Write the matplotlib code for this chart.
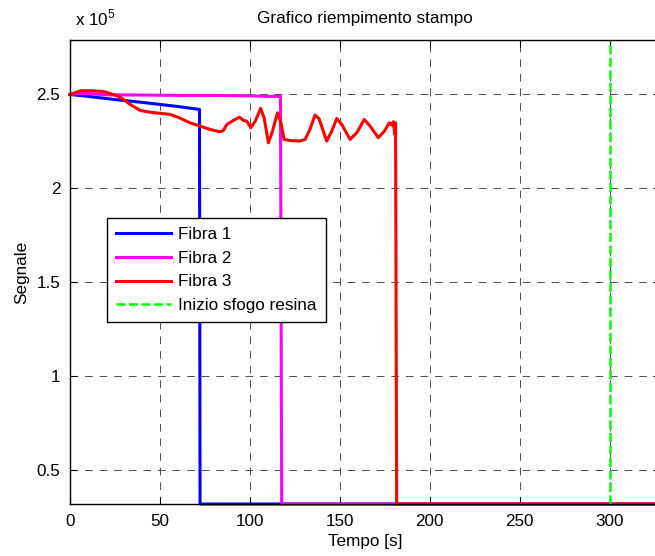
import numpy as np
import matplotlib
matplotlib.use("Agg")
import matplotlib.pyplot as plt
from matplotlib.ticker import FuncFormatter

plt.rcParams["font.family"] = ["Liberation Sans", "DejaVu Sans"]
plt.rcParams["mathtext.fontset"] = "custom"
plt.rcParams["mathtext.rm"] = "Liberation Sans"
plt.rcParams["lines.scale_dashes"] = False

# data (signal values)
t1 = [0, 10, 25, 40, 50, 60, 70, 72, 72.3, 330]
s1 = [250000, 249000, 247300, 245800, 244700, 243600, 242300, 242000, 32000, 32000]

t2 = [0, 5, 10, 20, 40, 60, 80, 100, 110, 117, 117.7, 330]
s2 = [250000, 250500, 250500, 249800, 249700, 249500, 249500, 249300, 249000, 249000, 32000, 32000]

t3 = [0, 3, 6, 12, 19, 24, 28, 33, 39, 45, 50, 55.6, 61, 66.7, 72.3, 77.9, 83.4, 85.3,
      87.2, 90.9, 94.2, 96.4, 98.3, 100.5, 103, 106, 107.9, 110.3, 112.6, 115.3, 117.1,
      119, 122.2, 127.8, 130.7, 133.4, 136.2, 138.4, 142.7, 145.5, 148.3, 151.1, 155.7,
      159.4, 163.6, 166.8, 171.4, 174.8, 177.5, 178.8, 179.7, 180.6, 181, 181.6, 330]
s3 = [250000, 251000, 252000, 252000, 251500, 250000, 248500, 245000, 241500, 240500,
      240000, 239400, 237500, 234900, 233200, 231400, 230100, 230900, 234000, 236200,
      237900, 236200, 235800, 232300, 235800, 242600, 237600, 224300, 230500, 240200,
      235800, 226100, 225500, 225200, 226100, 231400, 239000, 237200, 225200, 230500,
      237200, 234000, 226100, 229600, 236700, 233200, 227000, 230500, 234900, 233700,
      235500, 228700, 234900, 32000, 32000]

t_sfogo = 300
labels = ["Fibra 1", "Fibra 2", "Fibra 3", "Inizio sfogo resina"]
xticks = [0, 50, 100, 150, 200, 250, 300]
yticks = [50000, 100000, 150000, 200000, 250000]
ylim = (32000, 279000)

fs = 12.3
fig = plt.figure(figsize=(6.55, 5.56), dpi=100)
ax = fig.add_axes([70/655, 52/556, 590/655, 464/556])

ax.plot(t1, s1, color=(0, 0, 1), lw=2.2, label=labels[0], clip_on=False)
ax.plot(t2, s2, color=(1, 0, 1), lw=2.2, label=labels[1], clip_on=False)
ax.plot(t3, s3, color=(1, 0, 0), lw=2.2, label=labels[2], clip_on=False)
ax.plot([t_sfogo, t_sfogo], ylim, color=(0, 1, 0), lw=1.8,
        linestyle=(0, (6.5, 2.5)), label=labels[3], clip_on=False)

ax.set_xlim(0, 328)
ax.set_ylim(*ylim)
ax.set_xticks(xticks)
ax.set_yticks(yticks)
ax.yaxis.set_major_formatter(FuncFormatter(lambda v, p: f"{v/1e5:g}"))
ax.tick_params(direction="in", top=True, right=True, length=5, labelsize=fs, pad=7)
ax.grid(True, color="0.3", linestyle=(0, (5.5, 5)), linewidth=0.7)
ax.spines["right"].set_visible(False)
for s in ["left", "bottom", "top"]:
    ax.spines[s].set_linewidth(1.0)

ax.set_title("Grafico riempimento stampo", fontsize=fs, pad=12)
ax.set_xlabel("Tempo [s]", fontsize=fs, labelpad=4)
ax.set_ylabel("Segnale", fontsize=fs, labelpad=5)
ax.text(5/590, 1.025, r"x 10$^{5}$", transform=ax.transAxes, fontsize=fs,
        ha="left", va="bottom")

leg = ax.legend(loc="upper left", bbox_to_anchor=(37/590, 286/464), borderaxespad=0,
                fontsize=fs, fancybox=False, edgecolor="black", framealpha=1,
                handlelength=3.2, handletextpad=0.4, labelspacing=0.5, borderpad=0.55)
leg.get_frame().set_linewidth(1.0)

fig.savefig("out.png", dpi=100, facecolor="white")
